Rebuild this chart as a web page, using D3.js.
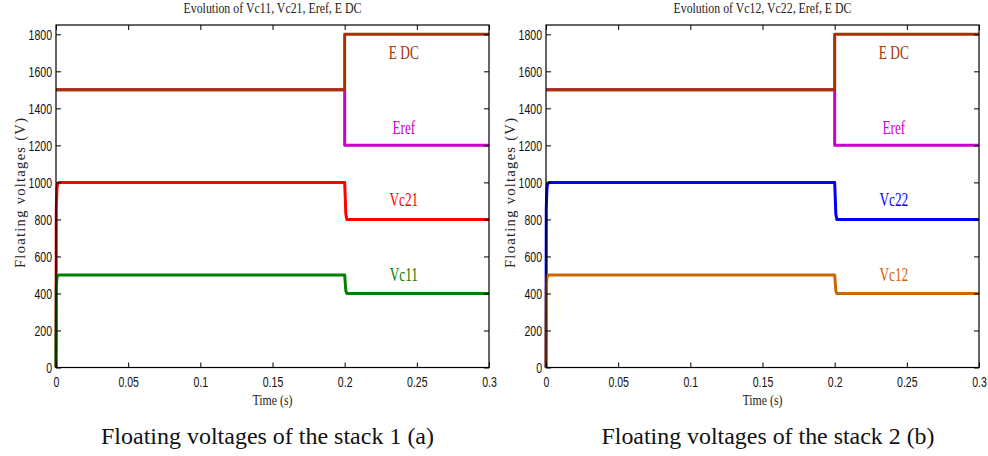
<!DOCTYPE html>
<html><head><meta charset="utf-8">
<script src="https://cdn.jsdelivr.net/npm/d3@7"></script>
<style>body{margin:0;background:#fff}svg{display:block}</style>
</head><body>
<script>
// ---- data ----
const time = [0, 0.0002, 0.0006, 0.001, 0.002, 0.2, 0.2003, 0.2008, 0.2015, 0.3];
const vc11 = [0, 430, 480, 495, 500, 500, 470, 415, 400, 400];
const vc21 = [0, 860, 960, 990, 1000, 1000, 940, 830, 800, 800];
const vc12 = [0, 430, 480, 495, 500, 500, 470, 415, 400, 400];
const vc22 = [0, 860, 960, 990, 1000, 1000, 940, 830, 800, 800];
const stepTime = [0, 0.2, 0.2, 0.3];
const eref = [1500, 1500, 1200, 1200];
const edc = [1500, 1500, 1800, 1800];
const xTicks = [0, 0.05, 0.1, 0.15, 0.2, 0.25, 0.3];
const yTicks = [0, 200, 400, 600, 800, 1000, 1200, 1400, 1600, 1800];
const titles = ["Evolution of Vc11, Vc21, Eref, E DC", "Evolution of Vc12, Vc22, Eref, E DC"];
const captions = ["Floating voltages of the stack 1 (a)", "Floating voltages of the stack 2 (b)"];
const panels = [
  {series:[
    {name:"Eref", t:stepTime, v:eref, color:"#cc00cc", lx:0.241, ly:1260},
    {name:"E DC", t:stepTime, v:edc, color:"#a33300", lx:0.241, ly:1667},
    {name:"Vc21", t:time, v:vc21, color:"#ff0000", lx:0.241, ly:872},
    {name:"Vc11", t:time, v:vc11, color:"#008000", lx:0.241, ly:467}]},
  {series:[
    {name:"Eref", t:stepTime, v:eref, color:"#cc00cc", lx:0.241, ly:1260},
    {name:"E DC", t:stepTime, v:edc, color:"#a33300", lx:0.241, ly:1667},
    {name:"Vc22", t:time, v:vc22, color:"#0000ff", lx:0.241, ly:872},
    {name:"Vc12", t:time, v:vc12, color:"#cc6600", lx:0.241, ly:467}]}
];

const W = 988, H = 456;
const svg = d3.select("body").append("svg").attr("width", W).attr("height", H);
const lefts = [56, 546];
const plotW = 433, plotTop = 25, plotBottom = 367.5;
const serif = "'Liberation Serif','Times New Roman',serif";
const sans = "'Liberation Sans',Arial,sans-serif";
const tickScale = 0.68;

panels.forEach((p, i) => {
  const x = d3.scaleLinear().domain([0, 0.3]).range([lefts[i], lefts[i] + plotW]);
  const y = d3.scaleLinear().domain([0, 1800]).range([plotBottom, 34.3]);
  const g = svg.append("g");
  const line = d3.line().x(d => x(d[0])).y(d => y(d[1]));
  p.series.forEach(s => {
    g.append("path").datum(s.t.map((t, k) => [t, s.v[k]]))
      .attr("d", line).attr("fill", "none").attr("stroke", s.color)
      .attr("stroke-width", 3).attr("stroke-linejoin", "round");
    g.append("text").attr("transform", `translate(${x(s.lx)},${y(s.ly)}) scale(0.74,1)`)
      .attr("text-anchor", "middle").attr("font-family", serif)
      .attr("font-size", 18).attr("fill", s.color).text(s.name);
  });
  // frame
  g.append("rect").attr("x", lefts[i]).attr("y", plotTop).attr("width", plotW)
    .attr("height", plotBottom - plotTop).attr("fill", "none").attr("stroke", "#000").attr("stroke-width", 1.2);
  const fmt = d => d3.format("~g")(d);
  const ax = g.append("g").attr("transform", `translate(0,${plotBottom})`)
    .call(d3.axisBottom(x).tickValues(xTicks).tickSizeInner(-5).tickSizeOuter(0).tickPadding(8).tickFormat(fmt));
  const axT = g.append("g").attr("transform", `translate(0,${plotTop})`)
    .call(d3.axisTop(x).tickValues(xTicks).tickSizeInner(-5).tickSizeOuter(0).tickFormat(""));
  const ay = g.append("g").attr("transform", `translate(${lefts[i]},0)`)
    .call(d3.axisLeft(y).tickValues(yTicks).tickSizeInner(-5).tickSizeOuter(0).tickPadding(4).tickFormat(fmt));
  const ayR = g.append("g").attr("transform", `translate(${lefts[i] + plotW},0)`)
    .call(d3.axisRight(y).tickValues(yTicks).tickSizeInner(-5).tickSizeOuter(0).tickFormat(""));
  [ax, axT, ay, ayR].forEach(a => {
    a.select(".domain").remove();
    a.selectAll("line").attr("stroke", "#000");
    a.selectAll("text").attr("font-family", sans).attr("font-size", 15.5).attr("fill", "#111");
  });
  ax.selectAll("text").attr("transform", `scale(${tickScale},1)`);
  ay.selectAll("text").attr("x", -4 / tickScale).attr("transform", `scale(${tickScale},1)`);
  const cx = lefts[i] + plotW / 2;
  svg.append("text").attr("x", cx).attr("y", 13).attr("text-anchor", "middle")
    .attr("font-family", serif).attr("font-size", 14).attr("textLength", 178)
    .attr("lengthAdjust", "spacingAndGlyphs").attr("fill", "#222").text(titles[i]);
  svg.append("text").attr("x", cx).attr("y", 405).attr("text-anchor", "middle")
    .attr("font-family", serif).attr("font-size", 15).attr("textLength", 40)
    .attr("lengthAdjust", "spacingAndGlyphs").attr("fill", "#222").text("Time (s)");
  svg.append("text").attr("transform", `translate(${lefts[i] - 31},193) rotate(-90)`)
    .attr("text-anchor", "middle").attr("font-family", serif).attr("font-size", 14.5)
    .attr("textLength", 150).attr("lengthAdjust", "spacing").attr("fill", "#222").text("Floating voltages (V)");
  svg.append("text").attr("x", [267.5, 768][i]).attr("y", 444).attr("text-anchor", "middle")
    .attr("font-family", serif).attr("font-size", 24).attr("textLength", 333)
    .attr("lengthAdjust", "spacingAndGlyphs").attr("fill", "#111").text(captions[i]);
});
</script>
</body></html>
